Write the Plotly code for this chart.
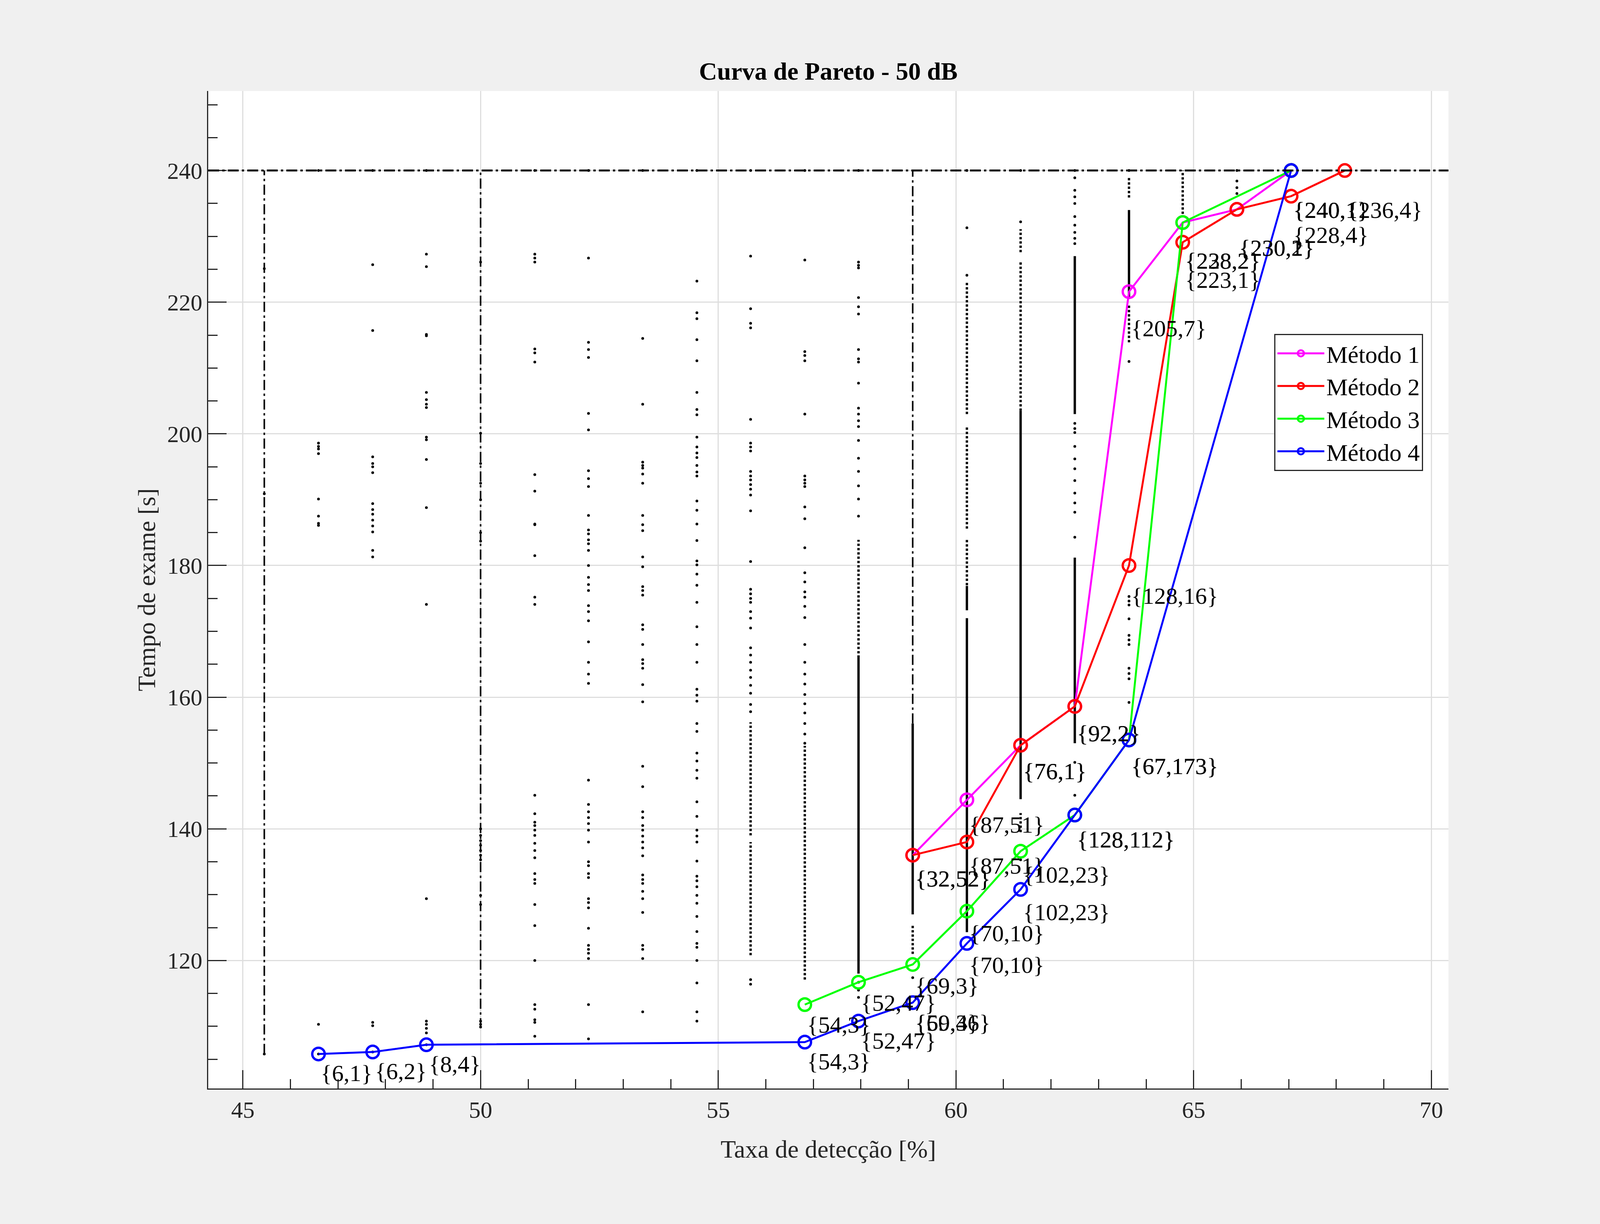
import plotly.graph_objects as go

# ---------------- data ----------------
time_limit = 240.0

# Method curves (x = taxa de detecção [%], y = tempo de exame [s])
m1_x = [59.09, 60.23, 61.36, 62.50, 63.64, 64.77, 65.91, 67.05]
m1_y = [136.0, 144.4, 152.7, 158.6, 221.6, 232.1, 234.1, 240.0]
m1_labels = ["{32,52}", "{87,51}", "{76,1}", "{92,2}", "{205,7}", "{228,2}", "{230,1}", "{240,1}"]

m2_x = [59.09, 60.23, 61.36, 62.50, 63.64, 64.77, 65.91, 67.05, 68.18]
m2_y = [136.0, 138.0, 152.7, 158.6, 180.0, 229.1, 234.1, 236.1, 240.0]
m2_labels = ["{32,52}", "{87,51}", "{76,1}", "{92,2}", "{128,16}", "{223,1}", "{230,2}", "{228,4}", "{236,4}"]

m3_x = [56.82, 57.95, 59.09, 60.23, 61.36, 62.50, 63.64, 64.77, 67.05]
m3_y = [113.3, 116.7, 119.4, 127.5, 136.6, 142.1, 153.5, 232.1, 240.0]
m3_labels = ["{54,3}", "{52,47}", "{69,3}", "{70,10}", "{102,23}", "{128,112}", "{67,173}", "{238,2}", "{240,1}"]

m4_x = [46.59, 47.73, 48.86, 56.82, 57.95, 59.09, 60.23, 61.36, 62.50, 63.64, 67.05]
m4_y = [105.8, 106.1, 107.2, 107.6, 110.8, 113.6, 122.6, 130.8, 142.1, 153.5, 240.0]
m4_labels = ["{6,1}", "{6,2}", "{8,4}", "{54,3}", "{52,47}", "{59,36}", "{70,10}", "{102,23}", "{128,112}", "{67,173}", "{240,1}"]
m4_extra_label_index = 5
m4_extra_label = "{60,4}"

method_names = ["Método 1", "Método 2", "Método 3", "Método 4"]

# Scatter cloud: isolated dots per column
dots_45_45 = [105.8, 190.9, 225.1]
dots_46_59 = [240, 198.6, 198.1, 197.7, 197.0, 190.1, 187.5, 186.4, 186.1, 110.3, 105.8]
dots_47_73 = [240, 225.7, 215.7, 196.5, 195.5, 195.0, 194.1, 189.4, 188.5, 187.8, 186.9, 186.0, 185.1,
              182.3, 181.3, 110.6, 110.1, 106.1]
dots_48_86 = [240, 227.3, 225.4, 215.1, 214.9, 206.3, 205.2, 204.5, 204.0, 199.5, 199.1, 196.1, 188.8,
              174.1, 129.4, 110.8, 110.3, 109.7, 109.0, 107.2]
dots_50_00 = [226.1, 200.1, 195.5, 192.5, 190.0, 185.0, 183.7, 140.0, 139.0, 138.2, 137.5, 136.7, 136.0,
              135.3, 129.9, 128.5, 110.8, 110.3, 109.9]
dots_51_14 = [240, 227.3, 226.7, 226.1, 212.9, 212.3, 210.9, 193.8, 191.3, 186.3, 186.2, 181.5, 175.2,
              174.1, 145.1, 142.3, 141.0, 140.5, 139.8, 139.0, 137.8, 136.7, 135.6, 133.2, 132.3, 131.7,
              128.5, 125.3, 120.0, 113.3, 112.6, 111.0, 110.6, 108.5]
dots_52_27 = [240, 226.7, 213.9, 212.8, 211.6, 203.1, 200.6, 194.4, 193.2, 192.0, 187.6, 185.4, 184.8,
              183.9, 183.3, 182.3, 180.0, 178.2, 177.1, 176.2, 173.9, 173.0, 171.6, 168.4, 165.3, 163.5,
              162.1, 147.4, 143.7, 142.6, 141.7, 140.8, 139.8, 138.0, 135.0, 134.4, 133.2, 132.6, 129.4,
              128.8, 128.0, 124.9, 122.3, 121.7, 121.1, 120.3, 113.3, 108.1]
dots_53_41 = [240, 214.5, 204.5, 195.7, 195.2, 194.8, 193.9, 192.5, 187.6, 186.2, 185.3, 181.3, 179.8,
              176.8, 176.2, 175.5, 171.0, 170.3, 168.0, 165.7, 165.1, 164.4, 161.9, 159.3, 149.5, 146.4,
              142.6, 141.7, 140.5, 139.8, 138.9, 138.0, 137.1, 135.9, 133.0, 132.3, 131.7, 130.5, 129.4,
              127.3, 122.3, 121.7, 120.3, 112.2]
dots_54_55 = [240, 223.2, 218.4, 217.5, 214.3, 211.1, 206.3, 203.7, 202.9, 199.5, 198.0, 197.1, 196.4,
              195.2, 194.2, 193.6, 189.8, 188.4, 186.3, 183.8, 180.7, 180.1, 178.7, 177.0, 174.4, 170.7,
              168.0, 165.3, 161.2, 160.3, 159.4, 156.0, 154.8, 151.5, 150.3, 148.9, 147.7, 144.1, 141.9,
              139.8, 138.9, 138.0, 135.1, 132.8, 132.1, 131.2, 129.9, 128.7, 126.7, 124.4, 122.6, 122.0,
              120.0, 116.6, 112.2, 110.8]
dots_55_68 = [240, 227.0, 219.0, 216.8, 216.1, 202.2, 198.6, 198.0, 197.4, 194.3, 193.6, 193.0, 192.3,
              191.6, 190.7, 188.3, 180.6, 176.4, 175.7, 175.0, 174.4, 173.0, 172.0, 170.5, 167.5, 166.4,
              165.3, 164.1, 163.0, 161.8, 160.6, 158.9, 157.8, 117.1, 116.4]
dots_56_82 = [240, 226.4, 212.5, 211.9, 211.1, 203.0, 193.6, 193.0, 192.5, 192.0, 188.9, 187.1, 182.7,
              178.9, 177.5, 176.0, 175.2, 173.8, 172.1, 168.0, 165.3, 163.5, 162.0, 160.4, 159.0, 157.6,
              156.0, 154.4, 153.0]
dots_57_95 = [240, 226.1, 225.6, 225.2, 220.7, 219.3, 218.2, 212.8, 211.4, 210.9, 207.7, 203.9, 203.0,
              202.0, 201.1, 199.0, 196.3, 194.3, 192.1, 190.1, 187.5, 116.7, 115.5, 114.4]
dots_59_09 = [117.4]
dots_60_23 = [240, 231.3, 224.1]
dots_61_36 = [240, 232.2, 135.3]
dots_62_50 = [240, 238.9, 237.0, 236.0, 235.0, 233.0, 231.7, 230.6, 229.7, 228.9, 201.6, 200.8, 200.2,
              198.1, 196.2, 194.7, 192.9, 191.0, 189.5, 188.1, 184.3, 150.1, 145.1]
dots_63_64 = [240, 211.0, 175.3, 174.6, 174.0, 171.9, 169.4, 168.7, 168.0, 164.4, 163.6, 162.8, 159.2]
dots_65_91 = [240, 238.4, 237.4, 236.5]

dot_columns = [
    (45.45, dots_45_45), (46.59, dots_46_59), (47.73, dots_47_73), (48.86, dots_48_86),
    (50.00, dots_50_00), (51.14, dots_51_14), (52.27, dots_52_27), (53.41, dots_53_41),
    (54.55, dots_54_55), (55.68, dots_55_68), (56.82, dots_56_82), (57.95, dots_57_95),
    (59.09, dots_59_09), (60.23, dots_60_23), (61.36, dots_61_36), (62.50, dots_62_50),
    (63.64, dots_63_64), (65.91, dots_65_91),
]

# Dense runs of dots (column x, lowest y, highest y)
dense_runs = [
    (57.95, 118.0, 166.0), (59.09, 127.0, 156.0), (60.23, 124.3, 172.0), (60.23, 173.2, 176.9),
    (61.36, 144.5, 203.5), (62.50, 203.0, 227.0), (62.50, 153.0, 181.2), (63.64, 220.5, 234.0),
]
dotted_runs = [
    (55.68, 139.0, 156.2), (55.68, 120.8, 138.0), (56.82, 117.1, 152.6), (57.95, 166.0, 183.9),
    (59.09, 121.0, 125.5), (60.23, 203.0, 223.0), (60.23, 185.6, 201.2), (60.23, 177.0, 183.9),
    (61.36, 227.6, 231.1), (61.36, 203.5, 226.1), (61.36, 139.5, 142.4),
    (63.64, 235.9, 239.0), (63.64, 213.9, 219.7), (64.77, 233.4, 240.0),
]
dashdot_runs = [(45.45, 105.8, 240.0), (50.00, 109.7, 240.0), (59.09, 156.0, 240.0)]

# ---------------- styles ----------------
FONT = "Liberation Serif"
AX = "#262626"
colors = ["#ff00ff", "#ff0000", "#00ff00", "#0000ff"]
REF_W, REF_H = 6000, 3134
MARGINS = dict(l=781, r=569, t=233, b=347)

fig = go.Figure()


def runs_xy(runs):
    xs, ys = [], []
    for cx, lo, hi in runs:
        xs += [cx, cx, None]
        ys += [lo, hi, None]
    return xs, ys


# scatter cloud
dx, dy = [], []
for cx, vals in dot_columns:
    dx += [cx] * len(vals)
    dy += vals
fig.add_trace(go.Scatter(x=dx, y=dy, mode="markers", marker=dict(color="black", size=7),
                         showlegend=False, hoverinfo="skip"))
for runs, width, dash in [(dense_runs, 6, "solid"), (dotted_runs, 6, "6px,5px"),
                          (dashdot_runs, 4, "26px,9px,6px,9px")]:
    rx, ry = runs_xy(runs)
    fig.add_trace(go.Scatter(x=rx, y=ry, mode="lines", line=dict(color="black", width=width, dash=dash),
                             connectgaps=False, showlegend=False, hoverinfo="skip"))

# time limit line
fig.add_shape(type="line", xref="paper", x0=0, x1=1, yref="y", y0=time_limit, y1=time_limit,
              line=dict(color="black", width=5, dash="28px,8px,6px,8px"), layer="above")

methods = [(m1_x, m1_y, m1_labels), (m2_x, m2_y, m2_labels), (m3_x, m3_y, m3_labels), (m4_x, m4_y, m4_labels)]
for (mx, my, ml), name, col in zip(methods, method_names, colors):
    fig.add_trace(go.Scatter(x=mx, y=my, mode="lines+markers", name=name,
                             line=dict(color=col, width=5),
                             marker=dict(symbol="circle-open", size=32, color=col, line=dict(width=6, color=col))))

LABEL_Y_SCALE = 0.977
label_font = dict(family=FONT, size=60, color="black")


def add_label(x, y, txt):
    fig.add_annotation(x=x, y=y * LABEL_Y_SCALE, text=txt, showarrow=False, xanchor="left",
                       yanchor="middle", xshift=4, yshift=-8, font=label_font)


for mx, my, ml in methods:
    for x, y, t in zip(mx, my, ml):
        add_label(x, y, t)
add_label(m4_x[m4_extra_label_index], m4_y[m4_extra_label_index], m4_extra_label)

fig.update_layout(
    autosize=True,
    margin=MARGINS,
    paper_bgcolor="#f0f0f0", plot_bgcolor="white",
    font=dict(family=FONT, size=60, color=AX),
    title=dict(text="<b>Curva de Pareto - 50 dB</b>", x=0.5, xref="paper", xanchor="center",
               y=1 - 182 / REF_H, yanchor="middle", font=dict(family=FONT, size=64, color="black")),
    legend=dict(x=0.8596, y=0.7565, xanchor="left", yanchor="top", bgcolor="white",
                bordercolor=AX, borderwidth=3, font=dict(family=FONT, size=62, color="black"),
                itemwidth=120, tracegroupgap=0),
    showlegend=True,
)
fig.update_xaxes(
    range=[44.27, 70.36], tickmode="array", tickvals=[45, 50, 55, 60, 65, 70],
    ticks="inside", ticklen=47, tickwidth=3, tickcolor=AX,
    showline=True, linecolor=AX, linewidth=3, mirror=False,
    showgrid=True, gridcolor="#dedede", gridwidth=2.5, zeroline=False,
    minor=dict(dtick=1, tick0=45, ticks="inside", ticklen=24, tickwidth=3, tickcolor=AX, showgrid=False),
    tickfont=dict(family=FONT, size=60, color=AX), ticklabelstandoff=0,
    title=dict(text="Taxa de detecção [%]", font=dict(family=FONT, size=64, color=AX), standoff=46),
)
fig.update_yaxes(
    range=[100.56, 252.08], tickmode="array", tickvals=[120, 140, 160, 180, 200, 220, 240],
    ticks="inside", ticklen=47, tickwidth=3, tickcolor=AX,
    showline=True, linecolor=AX, linewidth=3, mirror=False,
    showgrid=True, gridcolor="#dedede", gridwidth=2.5, zeroline=False,
    minor=dict(dtick=5, tick0=0, ticks="inside", ticklen=24, tickwidth=3, tickcolor=AX, showgrid=False),
    tickfont=dict(family=FONT, size=60, color=AX), ticklabelstandoff=0,
    title=dict(text="Tempo de exame [s]", font=dict(family=FONT, size=64, color=AX), standoff=10),
)

# Fill the browser window edge to edge, keeping the reference's margins as fractions of the page
post = (
    "document.documentElement.style.margin='0';document.body.style.margin='0';"
    "document.body.style.overflow='hidden';"
    "var gd=document.getElementById('{plot_id}');gd.style.width='100vw';gd.style.height='100vh';"
    "var W=window.innerWidth,H=window.innerHeight;"
    f"Plotly.relayout(gd,{{width:W,height:H,'margin.l':W*{MARGINS['l']}/{REF_W},"
    f"'margin.r':W*{MARGINS['r']}/{REF_W},'margin.t':H*{MARGINS['t']}/{REF_H},"
    f"'margin.b':H*{MARGINS['b']}/{REF_H}}});"
)
fig.write_html("out.html", default_width="100vw", default_height="100vh", post_script=post,
               config={"displayModeBar": False})
